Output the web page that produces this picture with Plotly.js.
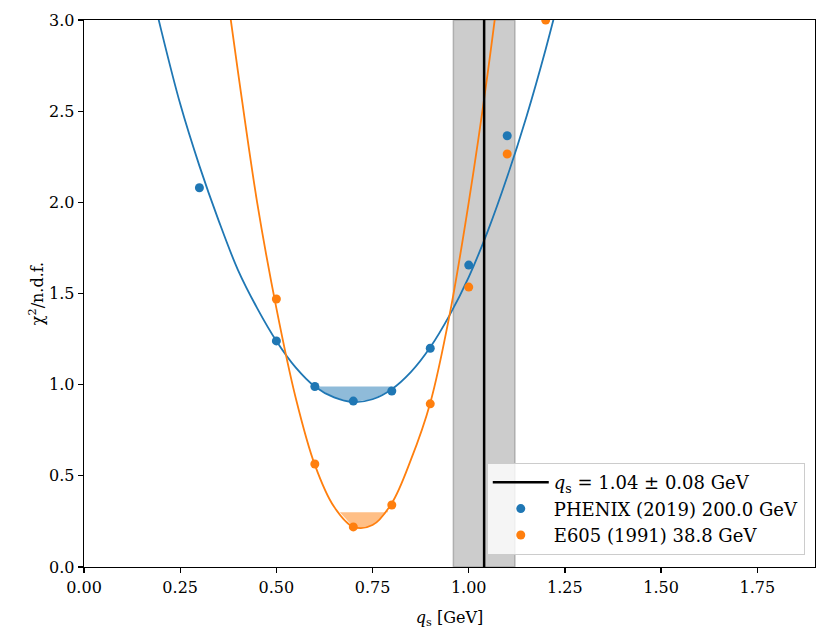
<!DOCTYPE html>
<html>
<head>
<meta charset="utf-8">
<script src="https://cdn.plot.ly/plotly-3.0.1.min.js"></script>
<style>
  html, body { margin: 0; padding: 0; background: #fff; }
  #chart { width: 830px; height: 642px; }
</style>
</head>
<body>
<div id="chart"></div>
<script>
// measured points
const qsValues = [0.3, 0.5, 0.6, 0.7, 0.8, 0.9, 1.0, 1.1];
const phenixChi2 = [2.08, 1.24, 0.99, 0.91, 0.965, 1.20, 1.656, 2.365];
const e605Qs = [0.5, 0.6, 0.7, 0.8, 0.9, 1.0, 1.1, 1.2];
const e605Chi2 = [1.47, 0.565, 0.22, 0.34, 0.895, 1.535, 2.265, 3.0];

// fitted curves (ends run past the top and get clipped)
const phenixFitX = [0.15, 0.2, 0.25, 0.3, 0.35, 0.4, 0.45, 0.5, 0.55, 0.6, 0.65, 0.7, 0.75, 0.8, 0.85, 0.9, 0.95, 1.0, 1.05, 1.1, 1.15, 1.2, 1.25];
const phenixFitY = [3.40, 2.95, 2.54, 2.20, 1.90, 1.63, 1.42, 1.24, 1.095, 0.99, 0.93, 0.905, 0.92, 0.975, 1.07, 1.205, 1.38, 1.59, 1.845, 2.14, 2.47, 2.84, 3.25];
const e605FitX = [0.35, 0.4, 0.45, 0.5, 0.55, 0.6, 0.65, 0.7, 0.75, 0.8, 0.85, 0.9, 0.95, 1.0, 1.05, 1.1];
const e605FitY = [3.48, 2.72, 2.0, 1.42, 0.93, 0.56, 0.33, 0.22, 0.23, 0.35, 0.59, 0.90, 1.38, 2.0, 2.72, 3.55];

// shaded minimum regions: curve points + flat top
const phenixBandX = [0.6, 0.65, 0.7, 0.75, 0.8];
const phenixBandY = [0.99, 0.93, 0.905, 0.92, 0.975];
const phenixBandTop = 0.99;
const e605BandX = [0.665, 0.7, 0.72, 0.75, 0.79];
const e605BandY = [0.30, 0.22, 0.21, 0.23, 0.31];
const e605BandTop = 0.30;

const qsCentral = 1.04;
const qsErr = 0.08;

const blue = '#1f77b4';
const orange = '#ff7f0e';
const fontFam = 'DejaVu Serif, serif';

// close a shaded polygon along the flat top
function bandPoly(xs, ys, top) {
    return {
        x: xs.concat([xs[xs.length - 1], xs[0]]),
        y: ys.concat([top, top])
    };
}
let pb = bandPoly(phenixBandX, phenixBandY, phenixBandTop);
let eb = bandPoly(e605BandX, e605BandY, e605BandTop);

let traces = [
    {x: pb.x, y: pb.y, mode: 'lines', fill: 'toself', fillcolor: 'rgba(31,119,180,0.5)',
     line: {width: 0}, showlegend: false, hoverinfo: 'skip'},
    {x: eb.x, y: eb.y, mode: 'lines', fill: 'toself', fillcolor: 'rgba(255,127,14,0.5)',
     line: {width: 0}, showlegend: false, hoverinfo: 'skip'},
    {x: phenixFitX, y: phenixFitY, mode: 'lines', line: {color: blue, width: 1.8, shape: 'spline'},
     showlegend: false},
    {x: e605FitX, y: e605FitY, mode: 'lines', line: {color: orange, width: 1.8, shape: 'spline'},
     showlegend: false},
    {x: [qsCentral, qsCentral], y: [0, 3], mode: 'lines', line: {color: 'black', width: 2.5},
     name: '<i>q</i><sub>s</sub> = 1.04 ± 0.08 GeV'},
    {x: qsValues, y: phenixChi2, mode: 'markers', marker: {color: blue, size: 9},
     name: 'PHENIX (2019) 200.0 GeV'},
    {x: e605Qs, y: e605Chi2, mode: 'markers', marker: {color: orange, size: 9},
     name: 'E605 (1991) 38.8 GeV'}
];

let axisCommon = {
    showline: true, mirror: true, linecolor: 'black', linewidth: 1.3,
    ticks: 'outside', ticklen: 5, tickwidth: 1.3, tickcolor: 'black',
    showgrid: false, zeroline: false,
    tickfont: {family: fontFam, size: 16, color: 'black'}
};

let layout = {
    width: 830, height: 642,
    margin: {l: 84, r: 15, t: 20, b: 75},
    paper_bgcolor: 'white', plot_bgcolor: 'white',
    font: {family: fontFam, size: 16, color: 'black'},
    xaxis: Object.assign({}, axisCommon, {
        range: [0, 1.9], dtick: 0.25, tick0: 0, tickformat: '.2f',
        title: {text: '<i>q</i><sub>s</sub> [GeV]', font: {family: fontFam, size: 16}, standoff: 16}
    }),
    yaxis: Object.assign({}, axisCommon, {
        range: [0, 3], dtick: 0.5, tick0: 0, tickformat: '.1f',
        title: {text: 'χ<sup>2</sup>/n.d.f.', font: {family: fontFam, size: 16}, standoff: 1}
    }),
    shapes: [{
        type: 'rect', xref: 'x', yref: 'y', layer: 'below',
        x0: qsCentral - qsErr, x1: qsCentral + qsErr, y0: 0, y1: 3,
        fillcolor: 'rgba(128,128,128,0.4)', line: {color: 'rgba(128,128,128,0.5)', width: 1.5}
    }],
    legend: {
        x: 0.986, y: 0.022, xanchor: 'right', yanchor: 'bottom',
        bgcolor: 'rgba(255,255,255,0.8)', bordercolor: '#cccccc', borderwidth: 1,
        font: {family: fontFam, size: 18}, tracegroupgap: 0, itemwidth: 56
    },
    showlegend: true
};

Plotly.newPlot('chart', traces, layout, {staticPlot: true});
</script>
</body>
</html>
